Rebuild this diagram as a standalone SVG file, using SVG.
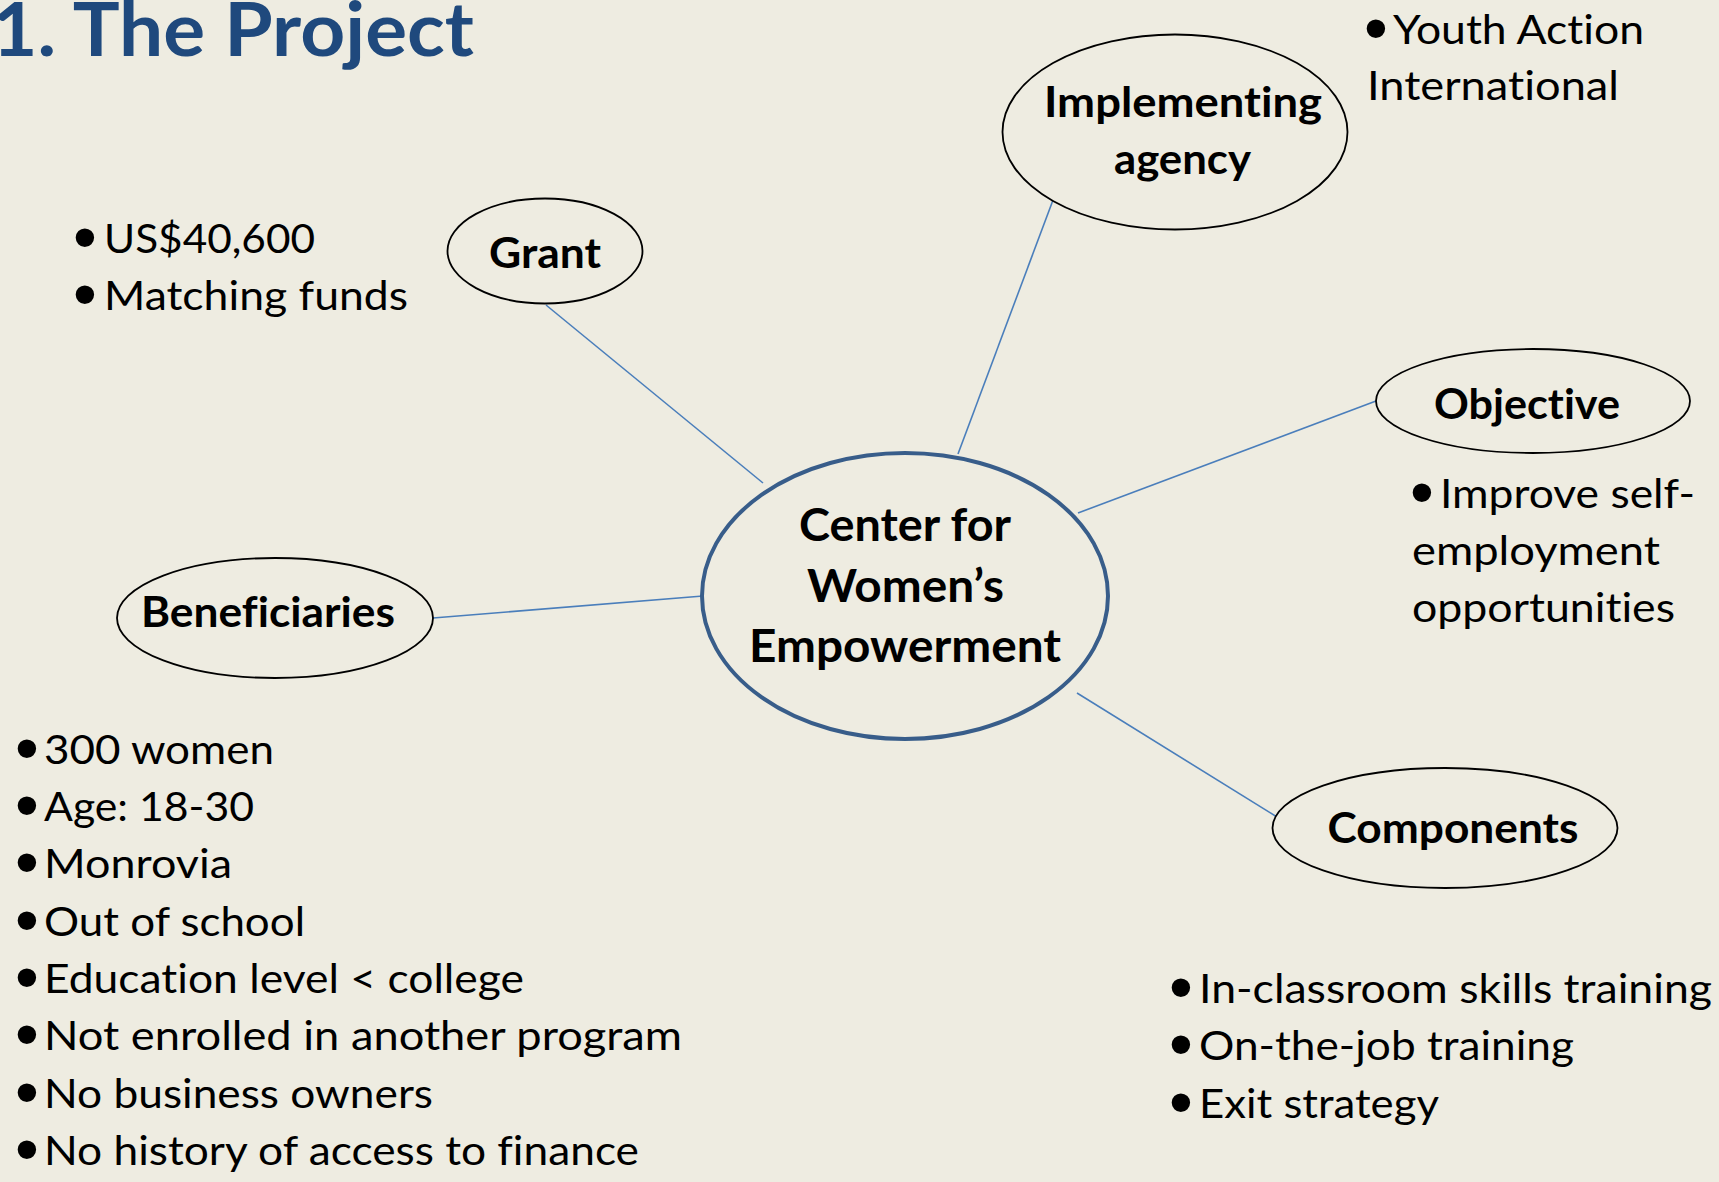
<svg xmlns="http://www.w3.org/2000/svg" width="1719" height="1182" viewBox="0 0 1719 1182">
<style>
.bg{fill:#EEECE1}
.node{fill:#EEECE1;stroke:#000;stroke-width:1.8}
.hub{fill:#EEECE1;stroke:#385D8A;stroke-width:4}
text{font-variant-ligatures:none}
.lbl{font-family:Lato,"Liberation Sans",sans-serif;font-weight:bold;font-size:42px;fill:#000;text-anchor:middle}
.hubl{font-family:Lato,"Liberation Sans",sans-serif;font-weight:bold;font-size:45px;fill:#000;text-anchor:middle}
.txt{font-family:Lato,"Liberation Sans",sans-serif;font-size:41px;fill:#000}
.bul{font-family:"Liberation Sans",Arial,sans-serif;font-size:68px;fill:#000}
.title{font-family:Lato,"Liberation Sans",sans-serif;font-weight:bold;font-size:75px;fill:#1F497D}
.conn line{stroke:#4A7EBB;stroke-width:1.6}
</style>
<rect class="bg" x="0" y="0" width="1719" height="1182"/>
<text class="title" x="-8" y="56" textLength="482" lengthAdjust="spacingAndGlyphs">1. The Project</text>

<g id="connectors" class="conn">
<line x1="546" y1="305" x2="763" y2="483"/>
<line x1="1053" y1="200" x2="958" y2="454"/>
<line x1="1376" y1="401" x2="1078" y2="513"/>
<line x1="433" y1="618" x2="703" y2="596"/>
<line x1="1277" y1="817" x2="1077" y2="693"/>
</g>

<g id="hub">
<ellipse class="hub" cx="905" cy="596" rx="203" ry="143"/>
<text class="hubl" x="905" y="541" textLength="212" lengthAdjust="spacingAndGlyphs">Center for</text>
<text class="hubl" x="905.5" y="602" textLength="197" lengthAdjust="spacingAndGlyphs">Women’s</text>
<text class="hubl" x="905" y="662" textLength="312" lengthAdjust="spacingAndGlyphs">Empowerment</text>
</g>

<g id="grant">
<ellipse class="node" cx="545" cy="251" rx="97.5" ry="52.5"/>
<text class="lbl" x="545" y="268" textLength="112" lengthAdjust="spacingAndGlyphs">Grant</text>
</g>
<g id="grant-notes">
<text class="bul" x="73" y="260">•</text>
<text class="txt" x="104" y="253" textLength="211" lengthAdjust="spacingAndGlyphs">US$40,600</text>
<text class="bul" x="73" y="317">•</text>
<text class="txt" x="104" y="310" textLength="304" lengthAdjust="spacingAndGlyphs">Matching funds</text>
</g>

<g id="implementing">
<ellipse class="node" cx="1175" cy="132" rx="172.5" ry="97.5"/>
<text class="lbl" x="1183" y="117" textLength="278" lengthAdjust="spacingAndGlyphs">Implementing</text>
<text class="lbl" x="1182.5" y="174" textLength="137" lengthAdjust="spacingAndGlyphs">agency</text>
</g>
<g id="implementing-notes">
<text class="bul" x="1364" y="51">•</text>
<text class="txt" x="1393" y="44" textLength="251" lengthAdjust="spacingAndGlyphs">Youth Action</text>
<text class="txt" x="1367" y="100" textLength="252" lengthAdjust="spacingAndGlyphs">International</text>
</g>

<g id="objective">
<ellipse class="node" cx="1533" cy="401" rx="157" ry="52"/>
<text class="lbl" x="1527" y="419" textLength="186" lengthAdjust="spacingAndGlyphs">Objective</text>
</g>
<g id="objective-notes">
<text class="bul" x="1410" y="515">•</text>
<text class="txt" x="1440" y="508" textLength="255" lengthAdjust="spacingAndGlyphs">Improve self-</text>
<text class="txt" x="1412" y="565" textLength="248" lengthAdjust="spacingAndGlyphs">employment</text>
<text class="txt" x="1412" y="622" textLength="263" lengthAdjust="spacingAndGlyphs">opportunities</text>
</g>

<g id="beneficiaries">
<ellipse class="node" cx="275" cy="618" rx="158" ry="60"/>
<text class="lbl" x="268" y="627" textLength="254" lengthAdjust="spacingAndGlyphs">Beneficiaries</text>
</g>
<g id="beneficiaries-notes">
<text class="bul" x="15" y="771">•</text>
<text class="txt" x="44" y="764" textLength="230" lengthAdjust="spacingAndGlyphs">300 women</text>
<text class="bul" x="15" y="828">•</text>
<text class="txt" x="44" y="821" textLength="210" lengthAdjust="spacingAndGlyphs">Age: 18-30</text>
<text class="bul" x="15" y="885">•</text>
<text class="txt" x="44" y="878" textLength="188" lengthAdjust="spacingAndGlyphs">Monrovia</text>
<text class="bul" x="15" y="943">•</text>
<text class="txt" x="44" y="936" textLength="261" lengthAdjust="spacingAndGlyphs">Out of school</text>
<text class="bul" x="15" y="1000">•</text>
<text class="txt" x="44" y="993" textLength="480" lengthAdjust="spacingAndGlyphs">Education level &lt; college</text>
<text class="bul" x="15" y="1057">•</text>
<text class="txt" x="44" y="1050" textLength="638" lengthAdjust="spacingAndGlyphs">Not enrolled in another program</text>
<text class="bul" x="15" y="1115">•</text>
<text class="txt" x="44" y="1108" textLength="389" lengthAdjust="spacingAndGlyphs">No business owners</text>
<text class="bul" x="15" y="1172">•</text>
<text class="txt" x="44" y="1165" textLength="595" lengthAdjust="spacingAndGlyphs">No history of access to finance</text>
</g>

<g id="components">
<ellipse class="node" cx="1445" cy="828" rx="172.5" ry="60"/>
<text class="lbl" x="1453" y="843" textLength="251" lengthAdjust="spacingAndGlyphs">Components</text>
</g>
<g id="components-notes">
<text class="bul" x="1169" y="1010">•</text>
<text class="txt" x="1199" y="1003" textLength="513" lengthAdjust="spacingAndGlyphs">In-classroom skills training</text>
<text class="bul" x="1169" y="1067">•</text>
<text class="txt" x="1199" y="1060" textLength="375" lengthAdjust="spacingAndGlyphs">On-the-job training</text>
<text class="bul" x="1169" y="1125">•</text>
<text class="txt" x="1199" y="1118" textLength="240" lengthAdjust="spacingAndGlyphs">Exit strategy</text>
</g>
</svg>
